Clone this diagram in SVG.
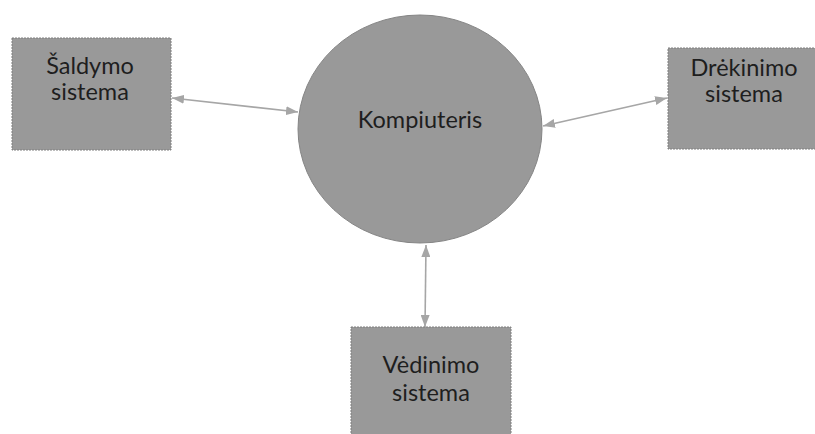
<svg xmlns="http://www.w3.org/2000/svg" width="815" height="434" viewBox="0 0 815 434">
<style>
.box{fill:#999999;stroke:#7f7f7f;stroke-width:1;stroke-dasharray:2 1}
.circ{fill:#999999;stroke:#858585;stroke-width:1}
.lbl{font-family:Lato,"Open Sans","DejaVu Sans",sans-serif;font-size:23.5px;fill:#1e1e1e;text-anchor:middle}
.conn{stroke:#a6a6a6;stroke-width:1.6;fill:none;marker-start:url(#ah);marker-end:url(#ah)}
</style>
<defs>
<marker id="ah" viewBox="0 0 12 9" refX="12" refY="4.5" markerWidth="12" markerHeight="9" markerUnits="userSpaceOnUse" orient="auto-start-reverse">
<path d="M0,0 L12,4.5 L0,9 Z" fill="#a6a6a6"/>
</marker>
</defs>
<rect width="815" height="434" fill="#ffffff"/>
<g id="connectors">
<line class="conn" x1="172" y1="98" x2="298" y2="112"/>
<line class="conn" x1="543" y1="126" x2="667" y2="98"/>
<line class="conn" x1="426" y1="245" x2="425" y2="327"/>
</g>
<g id="kompiuteris">
<ellipse class="circ" cx="420" cy="129" rx="122" ry="114"/>
<text class="lbl" x="420" y="128">Kompiuteris</text>
</g>
<g id="saldymo">
<rect class="box" x="12" y="38" width="159" height="112"/>
<text class="lbl" x="90" y="74">Šaldymo</text>
<text class="lbl" x="90" y="100">sistema</text>
</g>
<g id="drekinimo">
<rect class="box" x="668" y="48" width="154" height="101"/>
<text class="lbl" x="744" y="76">Drėkinimo</text>
<text class="lbl" x="744" y="102">sistema</text>
</g>
<g id="vedinimo">
<rect class="box" x="351" y="327" width="160" height="115"/>
<text class="lbl" x="431" y="373">Vėdinimo</text>
<text class="lbl" x="431" y="401">sistema</text>
</g>
</svg>
